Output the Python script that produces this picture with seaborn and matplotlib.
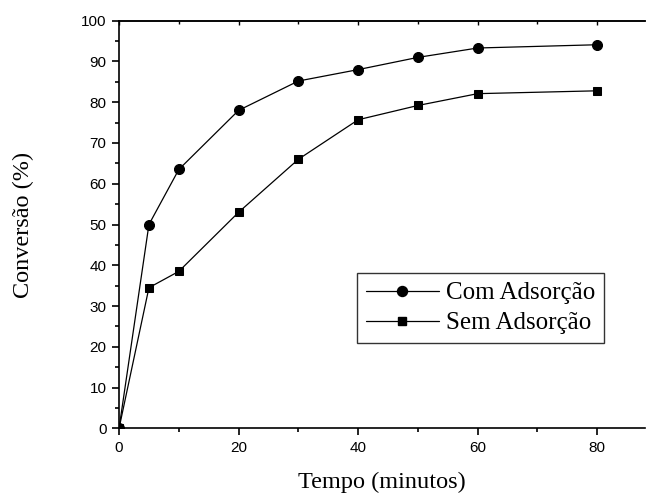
import matplotlib
matplotlib.use("Agg")
import matplotlib.pyplot as plt
import seaborn as sns
import pandas as pd
from matplotlib.ticker import MultipleLocator
from matplotlib.lines import Line2D

tempo = [0, 5, 10, 20, 30, 40, 50, 60, 80]
com_adsorcao = [0, 50.0, 63.5, 78.0, 85.2, 88.0, 91.0, 93.3, 94.1]
sem_adsorcao = [0, 34.5, 38.5, 53.0, 66.0, 75.7, 79.2, 82.1, 82.8]
series_names = ["Com Adsorção", "Sem Adsorção"]

df = pd.DataFrame({
    "Tempo": tempo * 2,
    "Conv": com_adsorcao + sem_adsorcao,
    "Serie": [series_names[0]] * len(tempo) + [series_names[1]] * len(tempo),
})

sns.set_style("white")
plt.rcParams["font.family"] = ["Liberation Sans", "DejaVu Sans"]
plt.rcParams["text.color"] = "black"
plt.rcParams["axes.labelcolor"] = "black"
plt.rcParams["xtick.color"] = "black"
plt.rcParams["ytick.color"] = "black"

fig = plt.figure(figsize=(6.47, 4.95), dpi=100)
ax = fig.add_axes([0.184, 0.1347, 0.813, 0.8235])

sns.lineplot(data=df, x="Tempo", y="Conv", hue="Serie", style="Serie",
             markers={series_names[0]: "o", series_names[1]: "s"},
             dashes=False, palette=["black", "black"], linewidth=0.9,
             markersize=7, markeredgecolor="black", ax=ax, legend=False)
for line, ms in zip(ax.lines, [7.2, 5.8]):
    line.set_markersize(ms)

ax.set_xlim(0, 88)
ax.set_ylim(0, 100)
ax.xaxis.set_major_locator(MultipleLocator(20))
ax.xaxis.set_minor_locator(MultipleLocator(10))
ax.yaxis.set_major_locator(MultipleLocator(10))
ax.yaxis.set_minor_locator(MultipleLocator(5))

ax.spines["right"].set_visible(False)
for s in ["left", "bottom", "top"]:
    ax.spines[s].set_linewidth(1.2)
    ax.spines[s].set_color("black")

ax.tick_params(axis="both", which="major", direction="out", length=5, width=1.2,
               labelsize=11, colors="black", bottom=True, left=True, pad=4)
ax.tick_params(axis="both", which="minor", direction="out", length=3, width=1.2,
               bottom=True, left=True)

top = ax.secondary_xaxis("top")
top.xaxis.set_major_locator(MultipleLocator(20))
top.xaxis.set_minor_locator(MultipleLocator(10))
top.tick_params(which="major", direction="in", length=3, width=1.0, labeltop=False)
top.tick_params(which="minor", direction="in", length=2, width=1.0)
top.spines["top"].set_linewidth(1.2)

serif = ["Liberation Serif", "DejaVu Serif"]
ax.set_xlabel("Tempo (minutos)", fontsize=17.5, family=serif, labelpad=12)
ax.set_ylabel("Conversão (%)", fontsize=17.5, family=serif, labelpad=34)

handles = [Line2D([], [], color="black", lw=0.9, marker="o", markersize=7.2),
           Line2D([], [], color="black", lw=0.9, marker="s", markersize=5.8)]
leg = ax.legend(handles, series_names, loc="lower right",
                bbox_to_anchor=(0.922, 0.209), borderaxespad=0,
                frameon=True, fancybox=False,
                prop={"family": serif, "size": 18}, handlelength=2.9,
                borderpad=0.35, labelspacing=0.3, handletextpad=0.3)
leg.get_frame().set_edgecolor("black")
leg.get_frame().set_linewidth(1.0)

fig.savefig("out.png", dpi=100)
